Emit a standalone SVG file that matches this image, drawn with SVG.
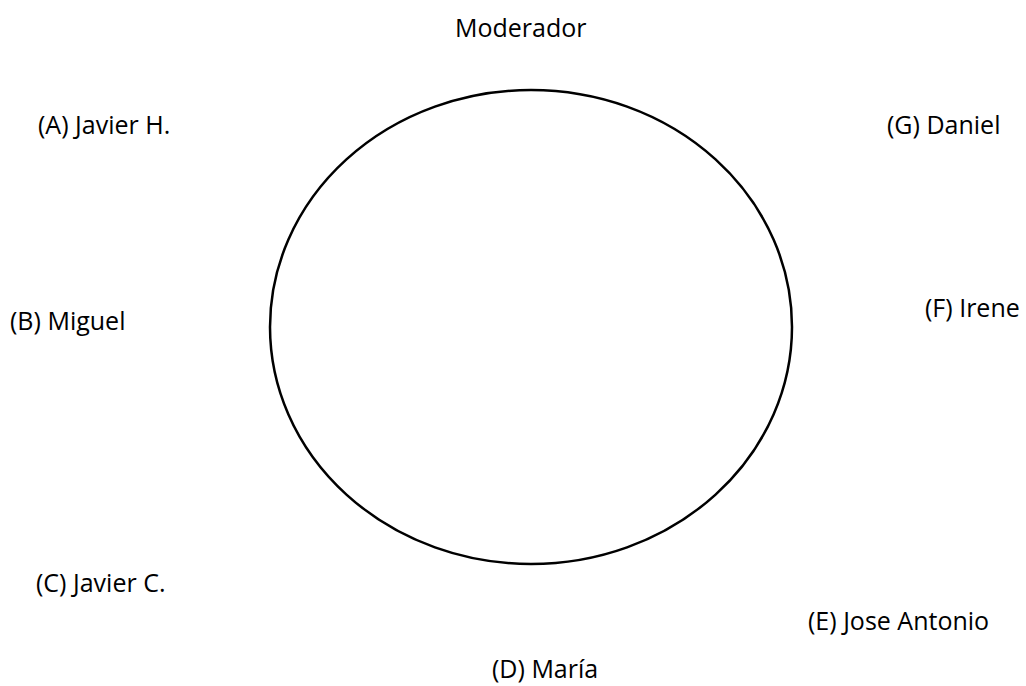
<svg xmlns="http://www.w3.org/2000/svg" width="1026" height="686" viewBox="0 0 1026 686">
<style>
.lbl{font-family:"Open Sans","Liberation Sans",sans-serif;font-size:25px;fill:#000}
.ring{fill:none;stroke:#000;stroke-width:2.5}
</style>
<rect width="1026" height="686" fill="#fff"/>
<g id="table"><ellipse class="ring" cx="531" cy="327" rx="261" ry="237"/></g>
<g id="connectors"></g>
<g id="moderador"><text class="lbl" x="455" y="37">Moderador</text></g>
<g id="a"><text class="lbl" x="38" y="134">(A) Javier H.</text></g>
<g id="g"><text class="lbl" x="887" y="134">(G) Daniel</text></g>
<g id="b"><text class="lbl" x="10" y="330">(B) Miguel</text></g>
<g id="f"><text class="lbl" x="925" y="317">(F) Irene</text></g>
<g id="c"><text class="lbl" x="36" y="592">(C) Javier C.</text></g>
<g id="e"><text class="lbl" x="808" y="630">(E) Jose Antonio</text></g>
<g id="d"><text class="lbl" x="492" y="678">(D) María</text></g>
</svg>
